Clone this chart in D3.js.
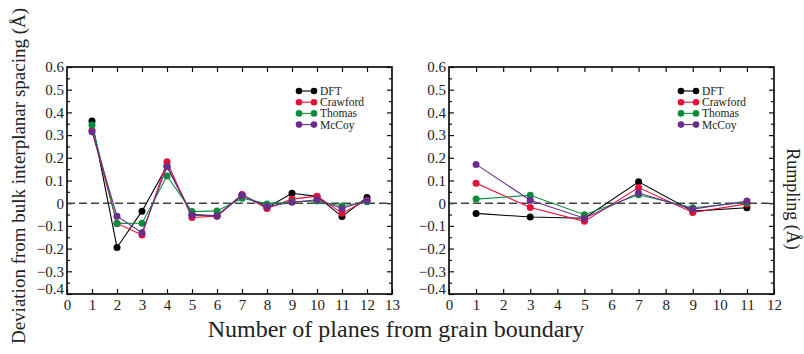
<!DOCTYPE html>
<html>
<head>
<meta charset="utf-8">
<script src="https://cdn.jsdelivr.net/npm/d3@7"></script>
<style>
  body { margin: 0; background: #fff; }
</style>
</head>
<body>
<div class="container"></div>
<script>
var seriesNames = ["DFT", "Crawford", "Thomas", "McCoy"];
var seriesColors = ["#000000", "#e3103a", "#0c8c3c", "#6a2d8c"];

// left panel: deviation from bulk interplanar spacing
var planesLeft = [1, 2, 3, 4, 5, 6, 7, 8, 9, 10, 11, 12];
var dftLeft      = [0.362, -0.195, -0.035, 0.163, -0.050, -0.055, 0.036, -0.020, 0.044, 0.030, -0.059, 0.025];
var crawfordLeft = [0.320, -0.089, -0.140, 0.183, -0.063, -0.057, 0.038, -0.023, 0.018, 0.031, -0.044, 0.013];
var thomasLeft   = [0.344, -0.089, -0.088, 0.120, -0.037, -0.034, 0.022, -0.003, 0.006, 0.010, -0.012, 0.006];
var mccoyLeft    = [0.315, -0.057, -0.130, 0.161, -0.053, -0.056, 0.034, -0.015, 0.004, 0.015, -0.023, 0.012];

// right panel: rumpling
var planesRight = [1, 3, 5, 7, 9, 11];
var dftRight      = [-0.045, -0.061, -0.066, 0.094, -0.035, -0.020];
var crawfordRight = [0.088, -0.019, -0.080, 0.069, -0.041, -0.003];
var thomasRight   = [0.018, 0.035, -0.051, 0.037, -0.020, 0.003];
var mccoyRight    = [0.171, 0.013, -0.066, 0.045, -0.026, 0.010];

var yTicks = [-0.4, -0.3, -0.2, -0.1, 0, 0.1, 0.2, 0.3, 0.4, 0.5, 0.6];
var yMinor = [-0.35, -0.25, -0.15, -0.05, 0.05, 0.15, 0.25, 0.35, 0.45, 0.55];

var serif = '"Liberation Serif", "DejaVu Serif", "Times New Roman", serif';

var svg = d3.select('.container')
  .append('svg').attr('width', 804).attr('height', 354);

var plotTop = 67, plotBottom = 294;

function fmt(v) {
  if (Math.abs(v) < 1e-9) return "0";
  return d3.format(".1f")(v);
}

var drawPanel = function(left, right, xMax, xs, data) {
  var x = d3.scaleLinear().domain([0, xMax]).range([left, right]);
  var y = d3.scaleLinear().domain([-0.4, 0.6]).range([plotBottom, plotTop]);
  var g = svg.append('g');

  // bottom axis with labels, ticks inward
  var bx = g.append('g').attr('transform', 'translate(0,' + plotBottom + ')')
    .call(d3.axisBottom(x).tickValues(d3.range(0, xMax + 1)).tickSizeInner(-5).tickSizeOuter(0).tickPadding(4).tickFormat(d3.format('d')));
  bx.selectAll('text').style('font-size', '15px').attr('y', 5);
  // top ticks
  g.append('g').attr('transform', 'translate(0,' + plotTop + ')')
    .call(d3.axisTop(x).tickValues(d3.range(1, xMax)).tickSizeInner(-5).tickSizeOuter(0).tickFormat(''));

  // left axis with labels
  var ly = g.append('g').attr('transform', 'translate(' + left + ',0)')
    .call(d3.axisLeft(y).tickValues(yTicks).tickSizeInner(-5).tickSizeOuter(0).tickPadding(4).tickFormat(fmt));
  ly.selectAll('text').style('font-size', '15px').attr('x', -3)
    .attr('dy', function(d) { return d === -0.4 ? '-0.02em' : '0.32em'; });
  g.append('g').attr('transform', 'translate(' + left + ',0)')
    .call(d3.axisLeft(y).tickValues(yMinor).tickSizeInner(-3).tickSizeOuter(0).tickFormat(''));
  // right ticks
  g.append('g').attr('transform', 'translate(' + right + ',0)')
    .call(d3.axisRight(y).tickValues(yTicks).tickSizeInner(-5).tickSizeOuter(0).tickFormat(''));
  g.append('g').attr('transform', 'translate(' + right + ',0)')
    .call(d3.axisRight(y).tickValues(yMinor).tickSizeInner(-3).tickSizeOuter(0).tickFormat(''));

  g.selectAll('.domain').remove();
  g.selectAll('.tick line').attr('stroke', '#111').attr('stroke-width', 1.2);

  // zero line
  g.append('line')
    .attr('x1', left).attr('x2', right)
    .attr('y1', y(0)).attr('y2', y(0))
    .attr('stroke', '#444').attr('stroke-width', 1.5)
    .attr('stroke-dasharray', '8,4');

  var line = d3.line()
    .x(function(d) { return x(d[0]); })
    .y(function(d) { return y(d[1]); });

  data.forEach(function(vals, i) {
    var pts = xs.map(function(xv, j) { return [xv, vals[j]]; });
    g.append('path').datum(pts)
      .attr('d', line).attr('fill', 'none')
      .attr('stroke', seriesColors[i]).attr('stroke-width', 1.1);
    g.selectAll('circle.s' + i).data(pts).enter().append('circle')
      .attr('class', 's' + i)
      .attr('cx', function(d) { return x(d[0]); })
      .attr('cy', function(d) { return y(d[1]); })
      .attr('r', 3.5)
      .style('fill', seriesColors[i]);
  });

  // frame
  g.append('rect').attr('x', left).attr('y', plotTop)
    .attr('width', right - left).attr('height', plotBottom - plotTop)
    .attr('fill', 'none').attr('stroke', '#000').attr('stroke-width', 1.6);

  // legend
  var lx = right - 93;
  seriesNames.forEach(function(name, i) {
    var ly0 = 91 + i * 11.2;
    g.append('line').attr('x1', lx).attr('x2', lx + 15)
      .attr('y1', ly0).attr('y2', ly0)
      .attr('stroke', seriesColors[i]).attr('stroke-width', 1.1);
    g.append('circle').attr('cx', lx).attr('cy', ly0).attr('r', 3.3).style('fill', seriesColors[i]);
    g.append('circle').attr('cx', lx + 15).attr('cy', ly0).attr('r', 3.3).style('fill', seriesColors[i]);
    g.append('text').attr('x', lx + 21).attr('y', ly0 + 4)
      .style('font-size', '11.5px').text(name);
  });
};

drawPanel(67, 392, 13, planesLeft, [dftLeft, crawfordLeft, thomasLeft, mccoyLeft]);
drawPanel(449, 774, 12, planesRight, [dftRight, crawfordRight, thomasRight, mccoyRight]);

// axis titles
svg.append('text')
  .attr('transform', 'translate(25,176) rotate(-90)')
  .attr('text-anchor', 'middle')
  .style('font-size', '19px')
  .text('Deviation from bulk interplanar spacing (Å)');

svg.append('text')
  .attr('transform', 'translate(787,199) rotate(90)')
  .attr('text-anchor', 'middle')
  .style('font-size', '18px')
  .text('Rumpling (Å)');

svg.append('text')
  .attr('x', 396).attr('y', 337)
  .attr('text-anchor', 'middle')
  .style('font-size', '24px')
  .text('Number of planes from grain boundary');

svg.selectAll('text').style('font-family', serif).style('fill', '#222');
</script>
</body>
</html>
